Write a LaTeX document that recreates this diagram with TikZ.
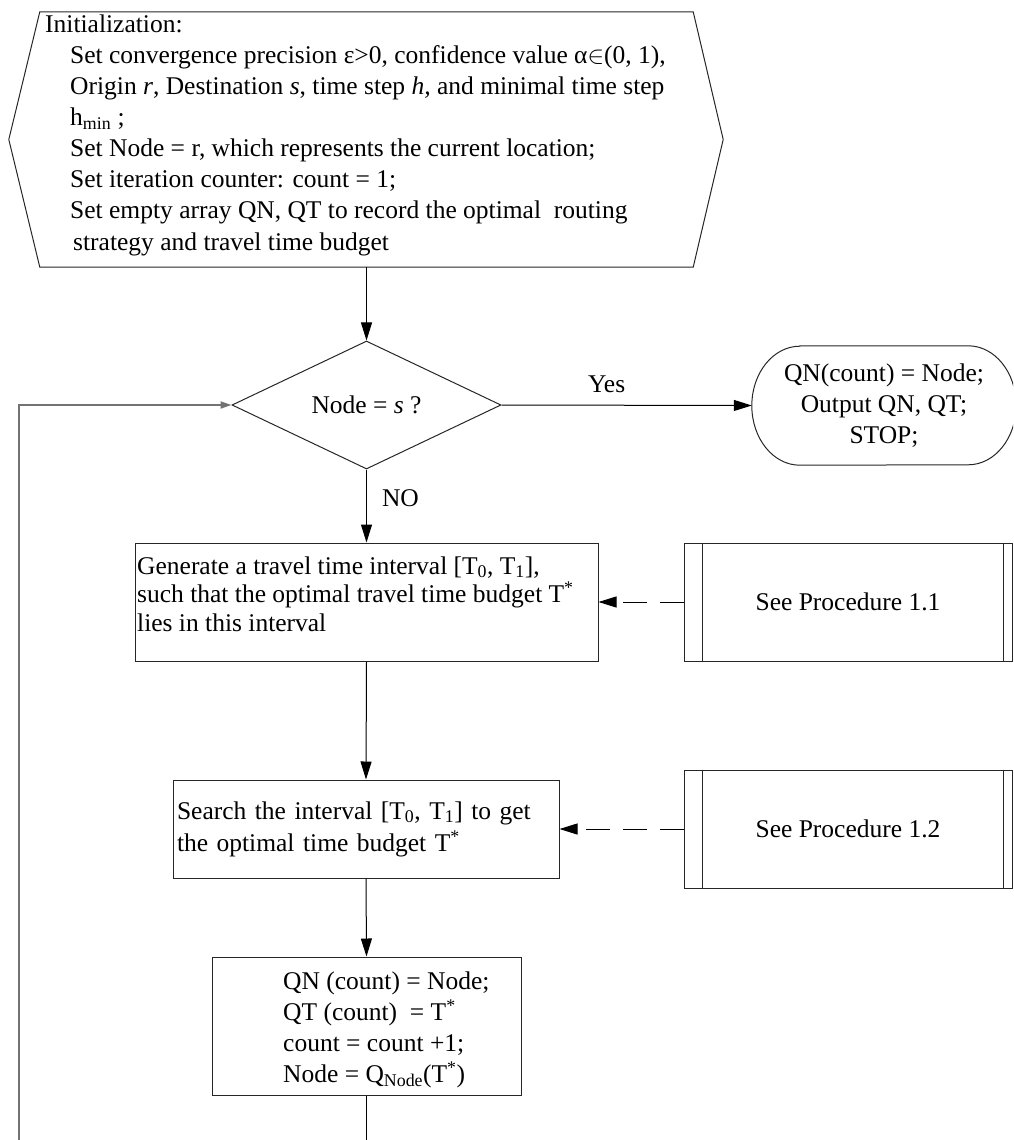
\documentclass[tikz,border=0pt]{standalone}
\usepackage{fontspec}
\setmainfont{Liberation Serif}
\usetikzlibrary{arrows.meta,shapes.geometric}
\begin{document}
\begin{tikzpicture}[x=1pt,y=-1pt,
  txt/.style={font=\fontsize{25.5}{31}\selectfont},
  outline/.style={draw=black!85, line width=1pt},
  boxed/.style={outline, rectangle, inner sep=0pt, txt},
  flow/.style={draw=black, line width=1pt, -{Triangle[length=18pt,width=11pt]}},
  refer/.style={flow, dash pattern=on 24pt off 13pt},
  loopline/.style={draw=black!55, line width=1.8pt, -{Triangle[length=11pt,width=7pt]}},
  plain/.style={draw=black, line width=1pt}]
\useasboundingbox (0,0) rectangle (1013,1140);
\clip (0,0) rectangle (1013,1140);

% initialization block (hexagon)
\node[inner sep=0pt, minimum width=653pt, minimum height=255pt] (init) at (366.5,139.5) {};
\draw[outline] (init.north west) -- (init.north east) -- ([xshift=30pt]init.east)
  -- (init.south east) -- (init.south west) -- ([xshift=-31pt]init.west) -- cycle;
\node[txt, anchor=north west, align=left, inner sep=0pt] (inittext) at (45,15) {%
Initialization:\\
\hspace*{25pt}Set convergence precision ε>0, confidence value α$\in$(0, 1),\\
\hspace*{25pt}Origin \textit{r}, Destination \textit{s}, time step \textit{h,} and minimal time step\\
\hspace*{25pt}h\textsubscript{min} ;\\
\hspace*{25pt}Set Node = r, which represents the current location;\\
\hspace*{25pt}Set iteration counter: count = 1;\\
\hspace*{25pt}Set empty array QN, QT to record the optimal\ \ routing\\[1pt]
\hspace*{28pt}strategy and travel time budget};

% decision
\node[diamond, outline, inner sep=0pt, minimum width=269pt, minimum height=112pt, txt]
  (dec) at (366.5,405) {Node = \textit{s} ?};

% terminal with elliptical ends
\node[txt, inner sep=0pt, minimum width=264pt, minimum height=119pt, align=center]
  (stop) at (884,405.5) {QN(count) = Node;\\Output QN, QT;\\STOP;};
\draw[outline] ([xshift=48pt]stop.north west) -- ([xshift=-48pt]stop.north east)
  arc[start angle=90, end angle=-90, x radius=48pt, y radius=59.5pt]
  -- ([xshift=48pt]stop.south west)
  arc[start angle=270, end angle=90, x radius=48pt, y radius=59.5pt] -- cycle;

% process boxes
\node[boxed, minimum width=463pt, minimum height=118pt] (gen) at (366.5,602) {};
\node[anchor=west, align=left, inner sep=0pt, font=\fontsize{25.5}{28.5}\selectfont]
  (gentext) at (137,594) {Generate a travel time interval [T\textsubscript{0}, T\textsubscript{1}],\\
  such that the optimal travel time budget T\textsuperscript{*}\\
  lies in this interval};
\node[boxed, minimum width=386pt, minimum height=98pt, text width=378pt, align=left,
  font=\fontsize{25.5}{32}\selectfont]
  (search) at (366,829) {Search the interval [T\textsubscript{0}, T\textsubscript{1}] to get\\
  the optimal time budget T\textsuperscript{*}};
\node[boxed, minimum width=309pt, minimum height=138pt] (upd) at (366.5,1026) {};
\node[txt, anchor=west, align=left, inner sep=0pt] (updtext) at (283,1030) {%
  QN (count) = Node;\\
  QT (count)\ \ = T\textsuperscript{*}\\
  count = count +1;\\
  Node = Q\textsubscript{Node}(T\textsuperscript{*})};

% predefined procedures
\node[boxed, minimum width=328pt, minimum height=118pt] (proca) at (848,602) {See Procedure 1.1};
\draw[outline] ([xshift=19pt]proca.north west) -- ([xshift=19pt]proca.south west);
\draw[outline] ([xshift=-9pt]proca.north east) -- ([xshift=-9pt]proca.south east);
\node[boxed, minimum width=328pt, minimum height=118pt] (procb) at (848,829) {See Procedure 1.2};
\draw[outline] ([xshift=19pt]procb.north west) -- ([xshift=19pt]procb.south west);
\draw[outline] ([xshift=-9pt]procb.north east) -- ([xshift=-9pt]procb.south east);

% connectors
\draw[flow] (init.south) -- (dec.north);
\draw[flow] (dec.east) -- node[pos=0.42, anchor=south, inner sep=0pt, yshift=12pt, txt] (yes) {Yes} (stop.west);
\draw[flow] (dec.south) -- node[pos=0.39, anchor=west, inner sep=0pt, xshift=15pt, txt] (no) {NO} (gen.north);
\draw[flow] (gen.south) -- (search.north);
\draw[flow] (search.south) -- (upd.north);
\draw[refer] (proca.west) -- (gen.east);
\draw[refer] (procb.west) -- (search.east);
\coordinate (updout) at (366.5,1140);
\draw[plain] (upd.south) -- (updout);
\coordinate (loopstart) at (19,1140);
\draw[loopline] (loopstart) |- (dec.west);
\end{tikzpicture}
\end{document}
